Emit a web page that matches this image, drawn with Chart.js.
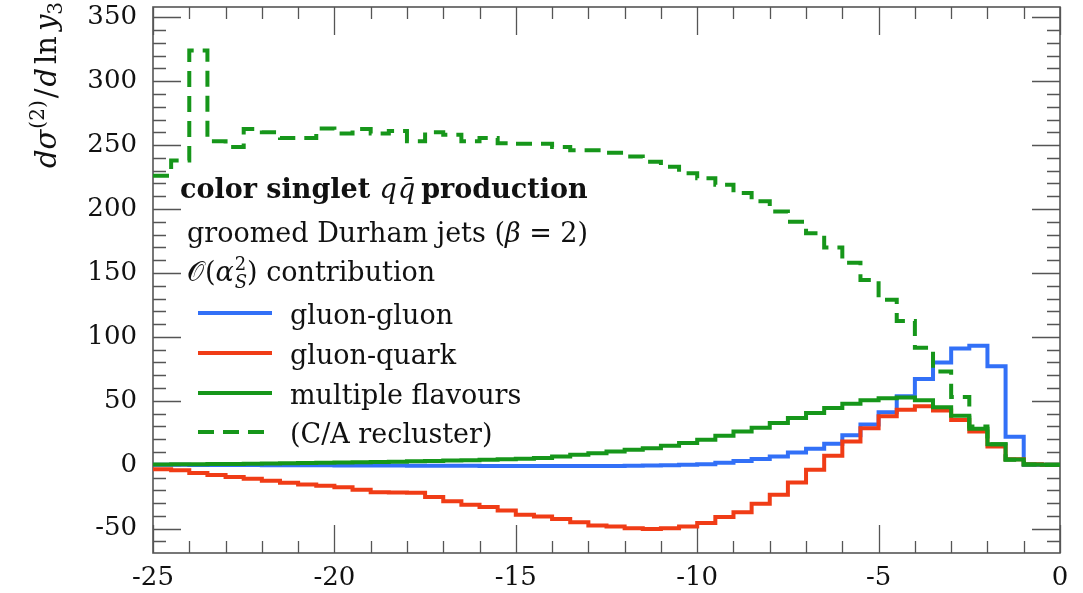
<!DOCTYPE html>
<html>
<head>
<meta charset="utf-8">
<script src="https://cdn.jsdelivr.net/npm/chart.js@4.4.1/dist/chart.umd.min.js"></script>
<style>
  html, body { margin: 0; padding: 0; background: #fff; }
  #wrap { width: 1083px; height: 593px; }
</style>
</head>
<body>
<div id="wrap"><canvas id="chart" width="1083" height="593"></canvas></div>
<script>
// bin edges of ln y3 (0.5 wide bins)
const binEdges = [
  -25, -24.5, -24, -23.5, -23, -22.5, -22, -21.5, -21, -20.5,
  -20, -19.5, -19, -18.5, -18, -17.5, -17, -16.5, -16, -15.5,
  -15, -14.5, -14, -13.5, -13, -12.5, -12, -11.5, -11, -10.5,
  -10, -9.5, -9, -8.5, -8, -7.5, -7, -6.5, -6, -5.5,
  -5, -4.5, -4, -3.5, -3, -2.5, -2, -1.5, -1, -0.5, 0
];

const gluonGluon = [
  0, 0, -0.1, -0.1, -0.2, -0.2, -0.3, -0.3, -0.4, -0.4,
  -0.5, -0.5, -0.6, -0.6, -0.7, -0.7, -0.8, -0.8, -0.9, -0.9,
  -1.0, -1.0, -1.0, -1.0, -1.0, -0.9, -0.8, -0.6, -0.3, 0,
  0.5, 1.5, 3, 4.5, 6.5, 9.5, 12.5, 16.5, 23, 31.5,
  41, 53.5, 67, 80, 91, 93, 77, 22, 0, 0
];

const gluonQuark = [
  -3.5, -4.2, -6.5, -8, -9.5, -11, -12.5, -14, -15.5, -16.5,
  -17.5, -19.5, -21.5, -21.6, -21.8, -25.3, -28.6, -31.3, -33, -35.7,
  -39, -40.5, -42.4, -45, -47.4, -48.2, -49.7, -50.3, -49.7, -48.2,
  -45.6, -40.9, -37.2, -30.5, -23.4, -13.8, -3.9, 7, 18.2, 28.5,
  38, 43, 45.8, 42.5, 35, 26, 14.3, 4.4, 0.5, 0
];

const multipleFlavours = [
  0.3, 0.4, 0.5, 0.6, 0.7, 0.8, 1.0, 1.1, 1.3, 1.5,
  1.7, 1.9, 2.1, 2.4, 2.7, 3.0, 3.3, 3.6, 4.0, 4.4,
  4.8, 5.3, 6.5, 7.8, 9.1, 10.4, 11.7, 13, 14.8, 17,
  19.5, 22.7, 26, 29, 32.6, 36.5, 40.4, 44.3, 47.7, 50.5,
  52, 52.6, 50.5, 45, 38.4, 28.2, 16, 4.2, 0.3, 0
];

const caRecluster = [
  226, 238, 324, 253, 248.5, 262.5, 260, 255.5, 255.5, 263,
  259, 262.5, 259, 261, 253, 260, 258, 253, 255.5, 251.5,
  251, 251, 248.5, 246, 246, 244, 241, 237, 233, 228,
  224, 219, 212.5, 206, 198, 190, 181, 170, 158, 144.5,
  129, 112.5, 91.5, 73, 53, 30, 16, 4, 0.3, 0
];

const xTickLabels = [-25, -20, -15, -10, -5, 0];
const yTickLabels = [-50, 0, 50, 100, 150, 200, 250, 300, 350];

const BLUE = '#3270f7';
const RED = '#f03c16';
const GREEN = '#16961a';
const SERIF = '"DejaVu Serif", "Liberation Serif", serif';

// histogram points: each bin value sits on its left edge, last value repeated at the right edge
function histPoints(values) {
    return binEdges.map((e, i) => ({ x: e, y: values[Math.min(i, values.length - 1)] }));
}

function drawRuns(ctx, x, y, runs) {
    for (const r of runs) {
        ctx.font = r.font;
        ctx.fillText(r.text, x, y + (r.dy || 0));
        if (!r.stay) x += ctx.measureText(r.text).width + (r.gap || 0);
    }
    return x;
}

const frameAndText = {
    id: 'frameAndText',
    beforeDatasetsDraw(chart) {
        const { ctx, chartArea: a, scales: { x, y } } = chart;
        ctx.save();
        ctx.strokeStyle = '#555';
        ctx.lineWidth = 1.3;
        ctx.beginPath();
        // x ticks, bottom and top, pointing inwards
        for (let v = -25; v <= 0; v += 1) {
            const px = Math.round(x.getPixelForValue(v)) + 0.5;
            const len = v % 5 === 0 ? 28 : 12;
            ctx.moveTo(px, a.bottom); ctx.lineTo(px, a.bottom - len);
            ctx.moveTo(px, a.top); ctx.lineTo(px, a.top + len);
        }
        // y ticks, left and right
        for (let v = -60; v <= 350; v += 10) {
            const py = Math.round(y.getPixelForValue(v)) + 0.5;
            const len = v % 50 === 0 ? 28 : 13;
            ctx.moveTo(a.left, py); ctx.lineTo(a.left + len, py);
            ctx.moveTo(a.right, py); ctx.lineTo(a.right - len, py);
        }
        ctx.stroke();
        ctx.lineWidth = 1.6;
        ctx.strokeRect(a.left, a.top, a.right - a.left, a.bottom - a.top);
        ctx.restore();
    },
    afterDatasetsDraw(chart) {
        const { ctx } = chart;
        ctx.save();
        ctx.fillStyle = '#111';
        ctx.textBaseline = 'alphabetic';
        const sz = 27;
        const reg = `${sz}px ${SERIF}`;
        const bold = `bold ${sz}px ${SERIF}`;
        const ital = `italic ${sz}px ${SERIF}`;
        const small = `${Math.round(sz * 0.68)}px ${SERIF}`;
        const smallIt = `italic ${Math.round(sz * 0.68)}px ${SERIF}`;

        drawRuns(ctx, 180, 198, [
            { text: 'color singlet ', font: bold },
            { text: 'q', font: ital, gap: 1 },
            { text: 'q\u0304', font: ital, gap: 6 },
            { text: 'production', font: bold }
        ]);
        drawRuns(ctx, 187, 242, [
            { text: 'groomed Durham jets (', font: reg },
            { text: '\u03b2', font: ital },
            { text: ' = 2)', font: reg }
        ]);
        drawRuns(ctx, 187, 281, [
            { text: '\ud835\udcaa', font: reg, gap: 1 },
            { text: '(', font: reg },
            { text: '\u03b1', font: ital, gap: 1 },
            { text: '2', font: small, dy: -11, stay: true },
            { text: 'S', font: smallIt, dy: 7 },
            { text: ') contribution', font: reg }
        ]);

        const legend = [
            { label: 'gluon-gluon', color: BLUE, dash: [], y: 313 },
            { label: 'gluon-quark', color: RED, dash: [], y: 353 },
            { label: 'multiple flavours', color: GREEN, dash: [], y: 393 },
            { label: '(C/A recluster)', color: GREEN, dash: [16, 9], y: 432 }
        ];
        legend.forEach(item => {
            ctx.save();
            ctx.strokeStyle = item.color;
            ctx.lineWidth = 4;
            ctx.setLineDash(item.dash);
            ctx.beginPath();
            ctx.moveTo(198, item.y);
            ctx.lineTo(272, item.y);
            ctx.stroke();
            ctx.restore();
            ctx.font = reg;
            ctx.fillText(item.label, 290, item.y + 11);
        });

        // y axis title, rotated
        ctx.translate(56, 168);
        ctx.rotate(-Math.PI / 2);
        const big = `italic 29px ${SERIF}`;
        const bigR = `29px ${SERIF}`;
        drawRuns(ctx, 0, 0, [
            { text: 'd\u03c3', font: big, gap: 1 },
            { text: '(2)', font: `20px ${SERIF}`, dy: -12, gap: 2 },
            { text: '/', font: bigR, gap: 2 },
            { text: 'd', font: big, gap: 4 },
            { text: 'ln', font: bigR, gap: 5 },
            { text: 'y', font: big },
            { text: '3', font: `20px ${SERIF}`, dy: 6 }
        ]);
        ctx.restore();
    }
};

const tickFont = { family: SERIF, size: 26 };

new Chart(document.getElementById('chart'), {
    type: 'line',
    data: {
        datasets: [
            {
                label: 'gluon-gluon',
                data: histPoints(gluonGluon),
                borderColor: BLUE,
                order: 4
            },
            {
                label: 'gluon-quark',
                data: histPoints(gluonQuark),
                borderColor: RED,
                order: 3
            },
            {
                label: 'multiple flavours',
                data: histPoints(multipleFlavours),
                borderColor: GREEN,
                order: 2
            },
            {
                label: '(C/A recluster)',
                data: histPoints(caRecluster),
                borderColor: GREEN,
                borderDash: [16, 9],
                order: 1
            }
        ]
    },
    options: {
        responsive: false,
        animation: false,
        layout: { padding: { top: 7, right: 23, left: 0, bottom: 0 } },
        elements: {
            point: { radius: 0 },
            line: { borderWidth: 4, stepped: 'before', fill: false, tension: 0, borderCapStyle: 'butt' }
        },
        plugins: {
            legend: { display: false },
            tooltip: { enabled: false }
        },
        scales: {
            x: {
                type: 'linear',
                min: -25,
                max: 0,
                afterBuildTicks: s => { s.ticks = xTickLabels.map(v => ({ value: v })); },
                afterFit: s => { s.height = 40; s.paddingLeft = 0; s.paddingRight = 0; },
                grid: { display: false, drawTicks: false },
                border: { display: false },
                ticks: { font: tickFont, color: '#111', padding: 10, maxRotation: 0, autoSkip: false }
            },
            y: {
                type: 'linear',
                min: -69,
                max: 358,
                afterBuildTicks: s => { s.ticks = yTickLabels.map(v => ({ value: v })); },
                afterFit: s => { s.width = 153; s.paddingTop = 0; s.paddingBottom = 0; },
                grid: { display: false, drawTicks: false },
                border: { display: false },
                ticks: { font: tickFont, color: '#111', padding: 16, autoSkip: false }
            }
        }
    },
    plugins: [frameAndText]
});
</script>
</body>
</html>
